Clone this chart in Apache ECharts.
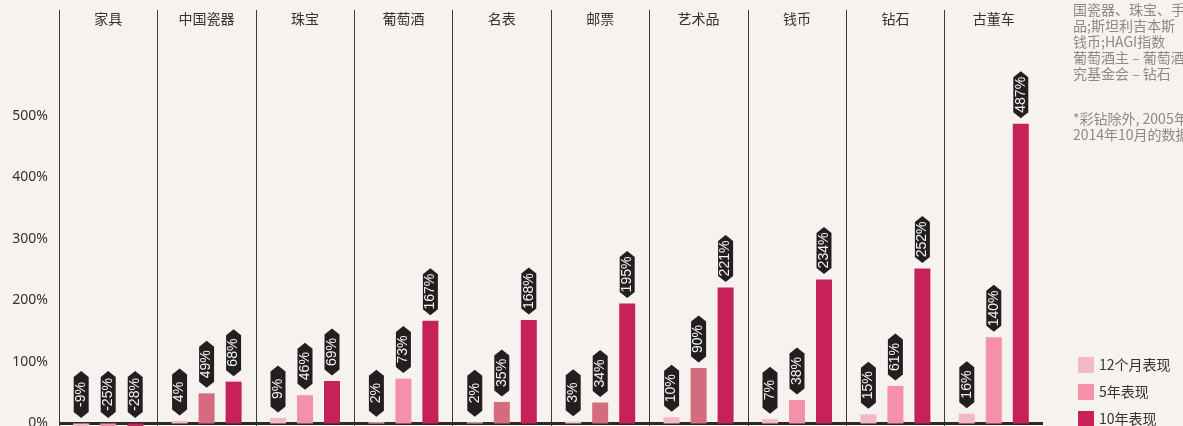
<!DOCTYPE html>
<html>
<head>
<meta charset="utf-8">
<script src="https://cdn.jsdelivr.net/npm/echarts@6/dist/echarts.min.js"></script>
<style>
  html, body { margin: 0; padding: 0; background: #f6f2ef; overflow: hidden; }
  /* 画布比窗口高，负值部分落在可视区以下 */
  #main { width: 1183px; height: 485px; }
</style>
</head>
<body>
<div id="main"></div>
<script>
// 奢侈品投资表现
const categories = ['家具', '中国瓷器', '珠宝', '葡萄酒', '名表', '邮票', '艺术品', '钱币', '钻石', '古董车']
const perf12m = [-9, 4, 9, 2, 2, 3, 10, 7, 15, 16]
const perf5y = [-25, 49, 46, 73, 35, 34, 90, 38, 61, 140]
const perf10y = [-28, 68, 69, 167, 168, 195, 221, 234, 252, 487]
const seriesNames = ['12个月表现', '5年表现', '10年表现']

// 5年表现里颜色偏暗的几组
const mutedFiveYear = ['中国瓷器', '名表', '邮票', '艺术品']

const colors = ['#f7b7ca', '#f590a9', '#c72159']
const mutedColor = '#d46c7d'
const font = '"Noto Sans CJK SC", "Noto Sans", sans-serif'

const tagPath = 'path://M5,0 L10,6 L10,41 L5,47 L0,41 L0,6 Z'

function barSeries(name, values, idx) {
  const s = {
    name: name,
    type: 'bar',
    barWidth: 16,
    barGap: '68.75%',
    itemStyle: { color: colors[idx] },
    data: values.map((v, i) => {
      if (idx === 1 && mutedFiveYear.indexOf(categories[i]) >= 0) {
        return { value: v, itemStyle: { color: mutedColor } }
      }
      return v
    }),
    z: 2
  }
  if (idx === 0) {
    // 0% 基线，压在柱子下面，小柱子才看得见
    s.markLine = {
      silent: true,
      symbol: 'none',
      label: { show: false },
      lineStyle: { color: '#2b2b2b', width: 3, type: 'solid' },
      data: [{ yAxis: 0 }],
      z: 1
    }
  }
  return s
}

function tagSeries(name, values, dx) {
  return {
    name: name + '标签',
    type: 'scatter',
    symbol: tagPath,
    symbolSize: [15, 47],
    symbolOffset: [dx, -29],
    itemStyle: { color: '#231f20', opacity: 1 },
    silent: true,
    z: 5,
    label: {
      show: true,
      position: 'inside',
      rotate: 90,
      color: '#f4f4f4',
      fontSize: 14,
      fontFamily: 'Liberation Sans, Arial, sans-serif',
      formatter: p => p.data.raw + '%'
    },
    data: values.map((v, i) => ({ value: [categories[i], Math.max(v, 0)], raw: v }))
  }
}

const myChart = echarts.init(document.getElementById('main'))
myChart.setOption({
  backgroundColor: '#f6f2ef',
  animation: false,
  grid: { left: 59, right: 140, top: 10, bottom: 0 },
  legend: {
    data: seriesNames,
    orient: 'vertical',
    left: 1073,
    top: 352,
    icon: 'rect',
    itemWidth: 16,
    itemHeight: 16,
    itemGap: 11,
    selectedMode: false,
    textStyle: { color: '#333', fontSize: 14, fontFamily: font }
  },
  xAxis: {
    type: 'category',
    position: 'top',
    data: categories,
    axisLine: { show: false },
    axisTick: { show: false },
    axisLabel: {
      inside: true,
      margin: 2,
      color: '#333',
      fontSize: 14,
      fontFamily: font
    },
    splitLine: {
      show: true,
      showMaxLine: false,
      lineStyle: { color: '#3a3a3a', width: 1 }
    }
  },
  yAxis: {
    type: 'value',
    min: -100,
    max: 672,
    interval: 100,
    axisLine: { show: false },
    axisTick: { show: false },
    splitLine: { show: false },
    axisLabel: {
      margin: 11,
      color: '#333',
      fontSize: 14,
      fontFamily: '"Noto Sans", sans-serif',
      formatter: v => (v >= 0 && v <= 500 && v % 100 === 0) ? v + '%' : ''
    }
  },
  graphic: [{
    type: 'text',
    left: 1073,
    top: 2,
    style: {
      text: '国瓷器、珠宝、手表及\n品;斯坦利吉本斯\n钱币;HAGI指数\n葡萄酒主 – 葡萄酒\n究基金会 – 钻石',
      fill: '#8c8a88',
      font: '14px ' + font,
      lineHeight: 16
    }
  }, {
    type: 'text',
    left: 1073,
    top: 111,
    style: {
      text: '*彩钻除外, 2005年\n2014年10月的数据',
      fill: '#8c8a88',
      font: '14px ' + font,
      lineHeight: 16
    }
  }],
  series: [
    barSeries(seriesNames[0], perf12m, 0),
    barSeries(seriesNames[1], perf5y, 1),
    barSeries(seriesNames[2], perf10y, 2),
    tagSeries(seriesNames[0], perf12m, -27),
    tagSeries(seriesNames[1], perf5y, 0),
    tagSeries(seriesNames[2], perf10y, 27)
  ]
})
window.addEventListener('resize', () => myChart.resize())
</script>
</body>
</html>
